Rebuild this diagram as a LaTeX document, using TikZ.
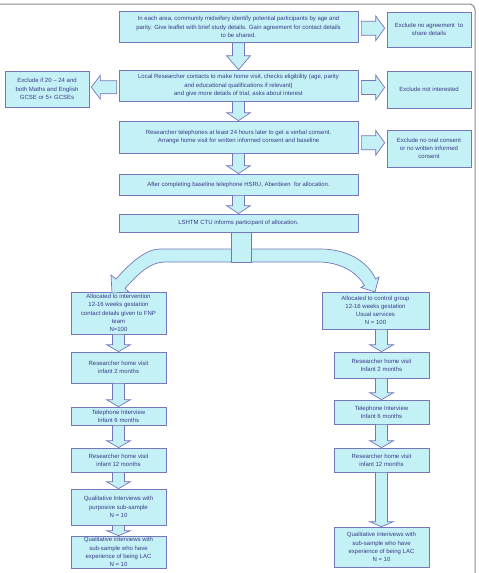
\documentclass[tikz,border=0pt]{standalone}
\usepackage{fontspec}
\setmainfont{Liberation Sans}
\usepackage{tikz}
\usetikzlibrary{calc}
\definecolor{boxc}{HTML}{C4F1F5}
\definecolor{bordc}{HTML}{7676BA}
\definecolor{txtc}{HTML}{3A3A88}
\definecolor{framec}{HTML}{8A8A8A}
\tikzstyle{box} = [rectangle, draw=bordc, fill=boxc, line width=0.7pt, text=txtc, align=center, inner sep=1pt, font=\fontsize{6}{8.2}\selectfont]
\tikzstyle{blkarrow} = [draw=bordc, fill=boxc, line width=0.7pt]
\tikzstyle{wide} = [box, minimum width=239]
\tikzstyle{excl} = [box, minimum width=84]
\tikzstyle{col} = [box, minimum width=95]
% fat arrows between boxes
\newcommand{\downblk}[3][7]{%
\path[blkarrow] let \p1=(#2.south), \p2=(#3.north) in
 ({\x2-6pt},\y1) -- ({\x2-6pt},{\y2+#1pt}) -- ({\x2-12pt},{\y2+#1pt}) -- (\x2,\y2)
 -- ({\x2+12pt},{\y2+#1pt}) -- ({\x2+6pt},{\y2+#1pt}) -- ({\x2+6pt},\y1) -- cycle;}
\newcommand{\rightblk}[2]{%
\path[blkarrow] let \p1=(#1.east), \p2=(#2.west), \p3=($(\p1)!.5!(\p2)$) in
 ({\x1+3pt},{\y3+7pt}) -- ({\x2-11pt},{\y3+7pt}) -- ({\x2-11pt},{\y3+12.5pt}) -- ({\x2-2pt},\y3)
 -- ({\x2-11pt},{\y3-12.5pt}) -- ({\x2-11pt},{\y3-7pt}) -- ({\x1+3pt},{\y3-7pt}) -- cycle;}
\newcommand{\leftblk}[2]{%
\path[blkarrow] let \p1=(#1.west), \p2=(#2.east), \p3=($(\p1)!.5!(\p2)$) in
 ({\x1-2pt},{\y3+6.5pt}) -- ({\x2+11pt},{\y3+6.5pt}) -- ({\x2+11pt},{\y3+12pt}) -- ({\x2+2pt},\y3)
 -- ({\x2+11pt},{\y3-12pt}) -- ({\x2+11pt},{\y3-6.5pt}) -- ({\x1-2pt},{\y3-6.5pt}) -- cycle;}

\begin{document}
\begin{tikzpicture}[x=1pt,y=-1pt]
\useasboundingbox (0,0) rectangle (479,573);
\draw[framec, line width=1pt, rounded corners=6] (-3,4) -- (475,4) -- (475,580);

\node[wide, minimum height=31] (area) at (238.5,27) {In each area, community midwifery identify potential participants by age and\\parity. Give leaflet with brief study details. Gain agreement for contact details\\to be shared.};
\node[excl, minimum height=35] (noagree) at (429,29.5) {Exclude no agreement\ \ to\\share details};
\node[wide, minimum height=31] (visit) at (238.5,85.5) {Local Researcher contacts to make home visit, checks eligibility (age, parity\\and educational qualifications if relevant)\\and give more details of trial, asks about interest};
\node[excl, minimum height=36] (agecut) at (47,89) {Exclude if 20 – 24 and\\both Maths and English\\GCSE or 5+ GCSEs};
\node[excl, minimum height=37] (notint) at (429,89.5) {Exclude not interested};
\node[wide, minimum height=32] (phone) at (238.5,137) {Researcher telephones at least 24 hours later to get a verbal consent.\\Arrange home visit for written informed consent and baseline};
\node[excl, minimum height=37] (nocons) at (429,148.5) {Exclude no oral consent\\or no written informed\\consent};
\node[wide, minimum height=21] (base) at (238.5,184.5) {After completing baseline telephone HSRU, Aberdeen\ \ for allocation.};
\node[wide, minimum height=18] (alloc) at (238.5,223) {LSHTM CTU informs participant of allocation.};

\node[col, minimum height=42] (int1) at (118.5,313) {Allocated to intervention\\12-16 weeks gestation\\contact details given to FNP\\team\\N=100};
\node[col, minimum height=31] (int2) at (118.5,367.5) {Researcher home visit\\infant 2 months};
\node[col, minimum height=18] (int3) at (118.5,416) {Telephone Interview\\Infant 6 months};
\node[col, minimum height=24] (int4) at (118.5,460) {Researcher home visit\\infant 12 months};
\node[col, minimum height=36] (int5) at (118.5,507) {Qualitative Interviews with\\purposive sub-sample\\N = 10};
\node[col, minimum height=32] (int6) at (118.5,552) {Qualitative interviews with\\sub-sample who have\\experience of being LAC\\N = 10};

\node[box, minimum width=107, minimum height=37] (con1) at (375.5,310.5) {Allocated to control group\\12-16 weeks gestation\\Usual services\\N = 100};
\node[col, minimum height=26] (con2) at (381.5,365) {Researcher home visit\\Infant 2 months};
\node[col, minimum height=24] (con3) at (381.5,412) {Telephone Interview\\Infant 6 months};
\node[col, minimum height=24] (con4) at (381.5,460) {Researcher home visit\\infant 12 months};
\node[col, minimum height=40] (con5) at (381.5,547) {Qualitative interivews with\\sub-sample who have\\experience of being LAC\\N = 10};

\downblk[14]{area}{visit}
\downblk[8]{visit}{phone}
\downblk[8]{phone}{base}
\downblk[8]{base}{alloc}
\rightblk{area}{noagree}
\rightblk{visit}{notint}
\leftblk{visit}{agecut}
\rightblk{phone}{nocons}

% split to the two arms
\path[blkarrow] (240,249) -- (160,249) .. controls (146,249) and (130,263) .. (116,279) -- (111,275) -- (112,293) -- (129,292) -- (125,288.4) .. controls (138,274) and (150,262) .. (165,262) -- (240,262) -- cycle;
\path[blkarrow] (240,249) -- (320,249) .. controls (348,249) and (368,262) .. (375.6,279) -- (379,277) -- (375,292) -- (361,287.5) -- (364.4,285.6) .. controls (357,272) and (340,262) .. (318,262) -- (240,262) -- cycle;
\path[blkarrow] ($(alloc.south)+(-7.5,0)$) rectangle ($(alloc.south)+(12.5,30)$);

\downblk{int1}{int2}
\downblk{int2}{int3}
\downblk{int3}{int4}
\downblk{int4}{int5}
\downblk[5]{int5}{int6}
\downblk{con1}{con2}
\downblk{con2}{con3}
\downblk{con3}{con4}
\downblk[5]{con4}{con5}
\end{tikzpicture}
\end{document}
